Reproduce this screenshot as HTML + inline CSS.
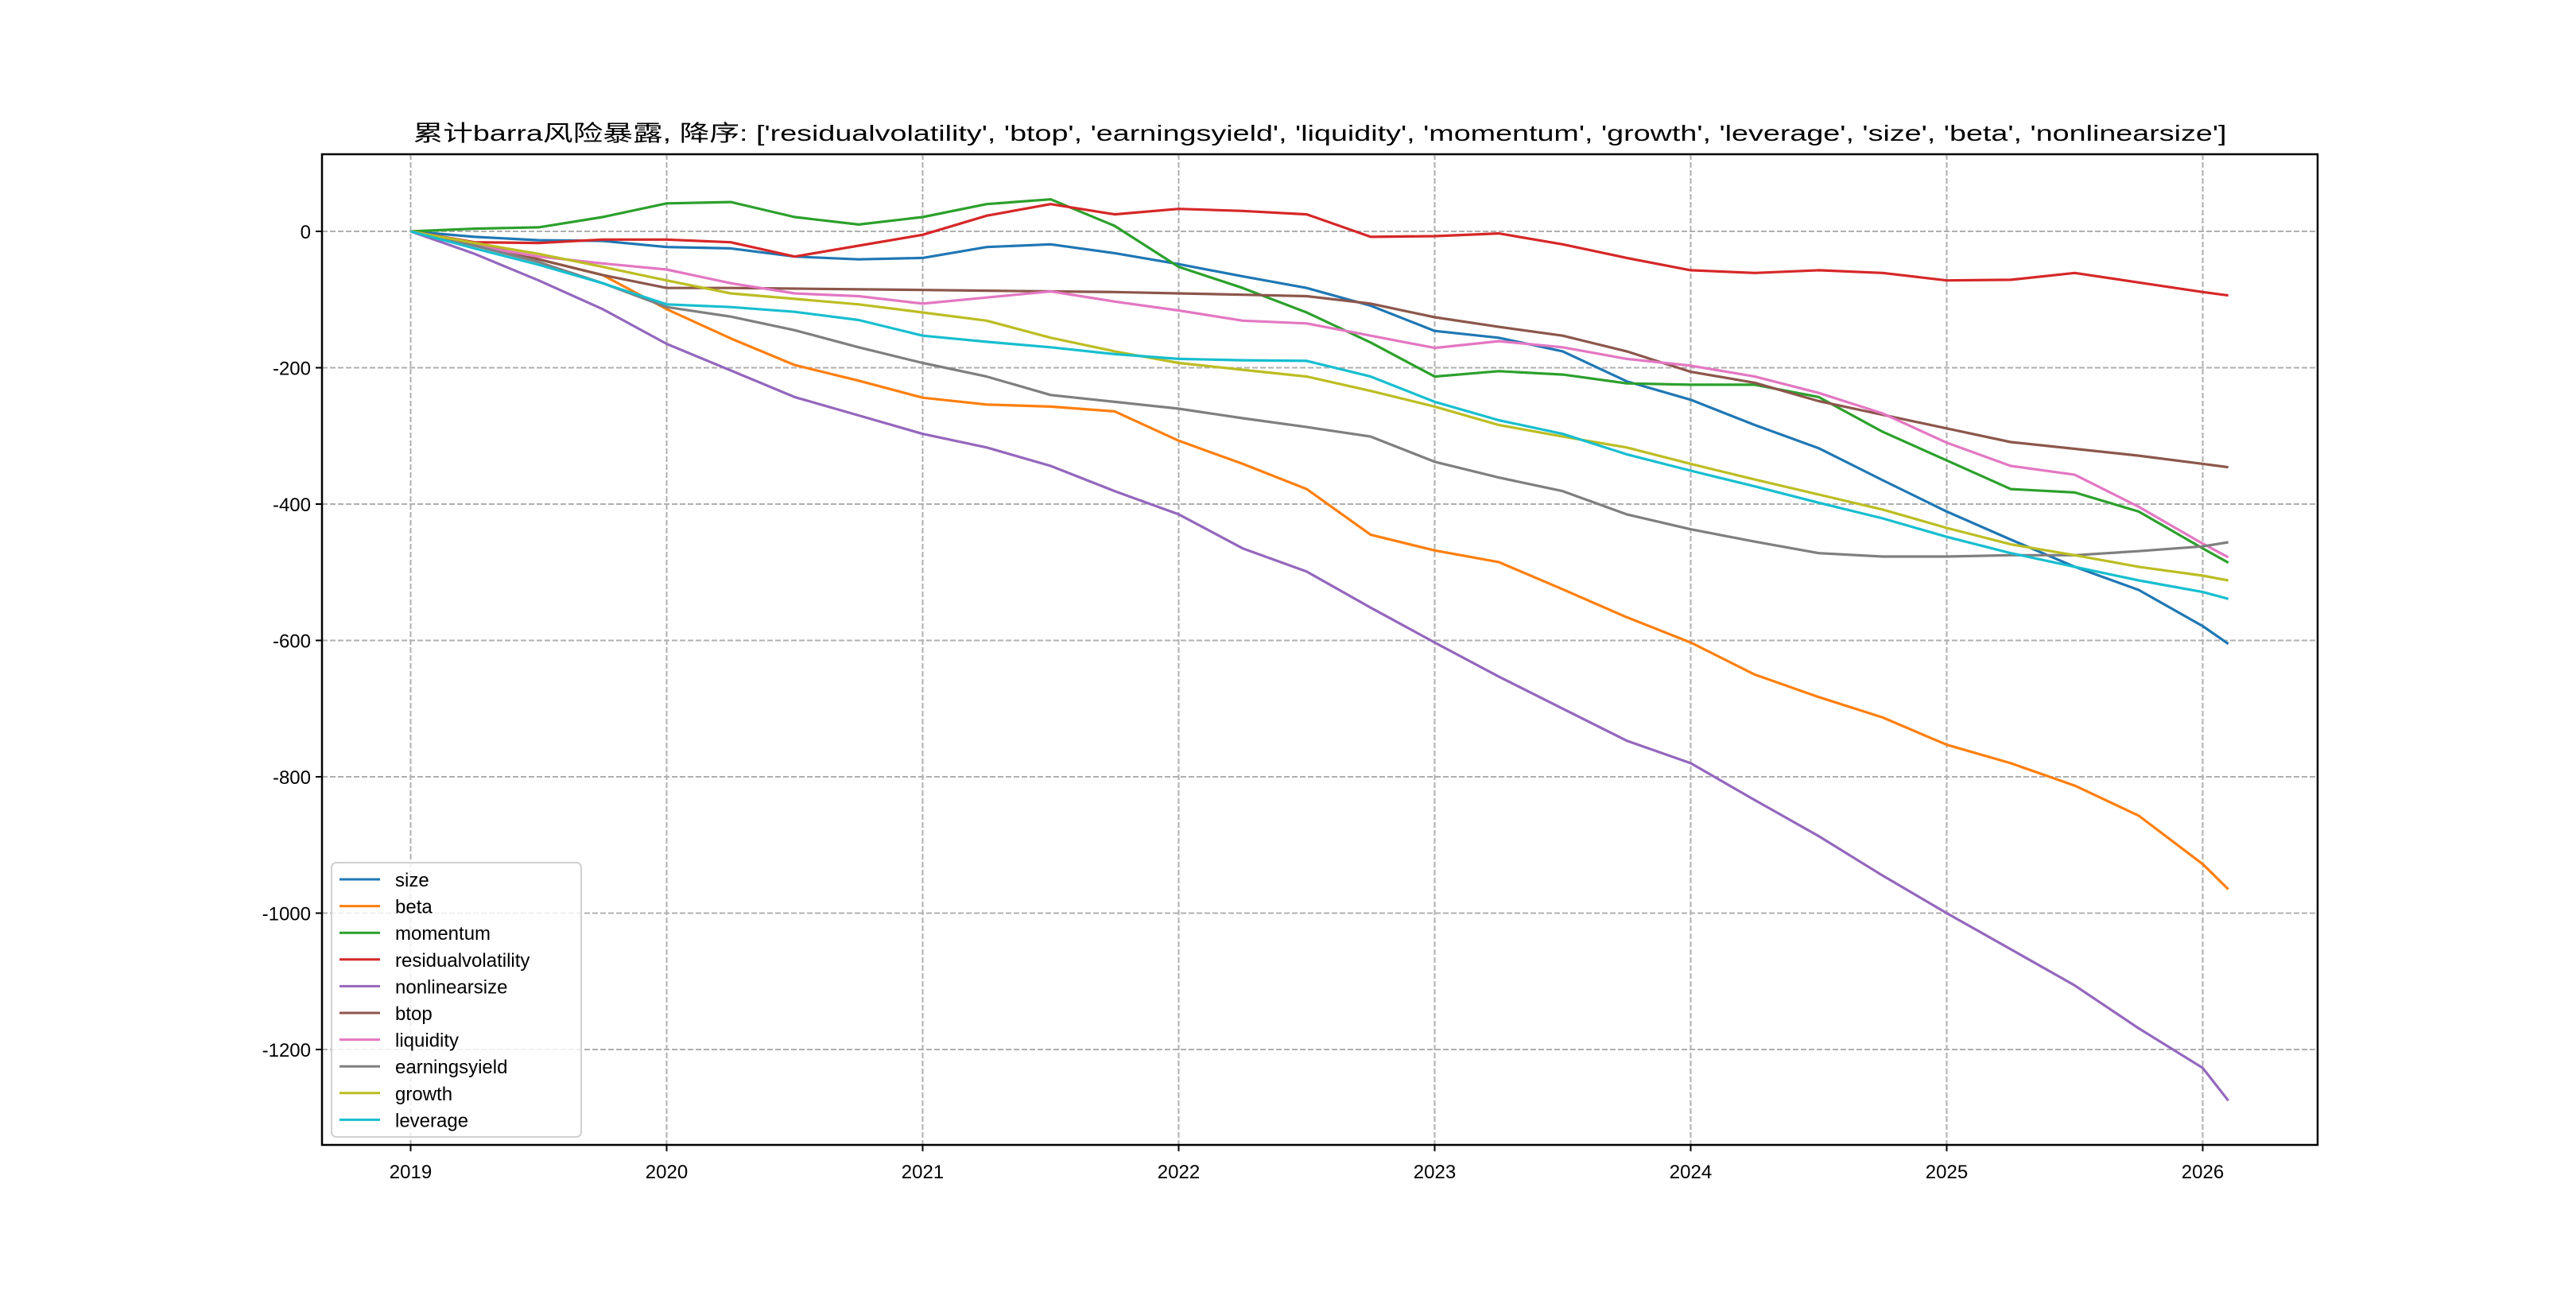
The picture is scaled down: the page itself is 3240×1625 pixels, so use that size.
<!DOCTYPE html>
<html><head><meta charset="utf-8"><style>
html,body{margin:0;padding:0;background:#fff;}
svg text{font-family:"Liberation Sans","Noto Sans CJK SC",sans-serif;}
</style></head><body>
<svg id="chart" width="3240" height="1620" viewBox="0 0 3240 1620" xmlns="http://www.w3.org/2000/svg">
<rect width="3240" height="1620" fill="#fff"/>
<text x="1660" y="177" text-anchor="middle" font-size="28" textLength="2281" lengthAdjust="spacingAndGlyphs">累计barra风险暴露, 降序: ['residualvolatility', 'btop', 'earningsyield', 'liquidity', 'momentum', 'growth', 'leverage', 'size', 'beta', 'nonlinearsize']</text>
<g id="grid"></g>
<g id="series"></g>
<rect x="405" y="194" width="2510" height="1246" fill="none" stroke="#000" stroke-width="2.5"/>
<g id="ticks"></g>
<g id="legend"></g>
</svg>
<script>
const times=[2019,2019.25,2019.5,2019.75,2020,2020.25,2020.5,2020.75,2021,2021.25,2021.5,2021.75,2022,2022.25,2022.5,2022.75,2023,2023.25,2023.5,2023.75,2024,2024.25,2024.5,2024.75,2025,2025.25,2025.5,2025.75,2026,2026.1];
const seriesNames=['size','beta','momentum','residualvolatility','nonlinearsize','btop','liquidity','earningsyield','growth','leverage'];
const seriesColors=['#1f77b4','#ff7f0e','#2ca02c','#d62728','#9467bd','#8c564b','#e377c2','#7f7f7f','#bcbd22','#17becf'];
const sizeVals=[0,-8,-13,-14,-23,-25,-37,-41,-39,-23,-19,-32,-48,-66,-83,-109,-146,-156,-176,-220,-247,-284,-318,-365,-411,-452,-492,-526,-579,-605];
const betaVals=[0,-17,-41,-64,-114,-157,-196,-219,-244,-254,-257,-264,-307,-341,-378,-445,-468,-485,-525,-566,-603,-650,-683,-713,-753,-780,-813,-857,-928,-965];
const momentumVals=[0,4,6,21,41,43,21,10,21,40,47,8,-52,-83,-119,-163,-213,-205,-210,-223,-225,-225,-243,-294,-336,-378,-383,-411,-465,-486];
const residVals=[0,-16,-17,-12,-12,-16,-37,-21,-5,23,40,25,33,30,25,-8,-7,-3,-19,-39,-57,-61,-57,-61,-72,-71,-61,-75,-89,-94];
const nonlinVals=[0,-33,-72,-114,-165,-204,-243,-270,-297,-317,-344,-381,-415,-465,-499,-552,-603,-653,-700,-747,-780,-834,-887,-945,-1000,-1053,-1106,-1169,-1227,-1275];
const btopVals=[0,-17,-41,-64,-83,-83,-84,-85,-86,-87,-88,-89,-91,-93,-95,-106,-126,-140,-153,-176,-206,-222,-249,-269,-289,-309,-319,-329,-341,-346];
const liquidityVals=[0,-21,-37,-47,-56,-76,-91,-95,-106,-97,-88,-103,-116,-131,-135,-153,-171,-161,-170,-187,-197,-213,-237,-267,-310,-344,-357,-404,-458,-478];
const earningsVals=[0,-21,-45,-76,-111,-125,-145,-170,-193,-213,-240,-250,-260,-274,-287,-301,-338,-361,-381,-415,-437,-455,-472,-477,-477,-475,-475,-469,-462,-456];
const growthVals=[0,-17,-33,-52,-72,-91,-99,-107,-119,-131,-156,-176,-193,-203,-213,-234,-257,-284,-301,-317,-341,-364,-386,-408,-435,-459,-475,-492,-505,-512];
const leverageVals=[0,-25,-49,-76,-107,-111,-118,-130,-153,-162,-170,-180,-187,-189,-190,-213,-250,-277,-297,-327,-351,-374,-398,-421,-448,-472,-492,-512,-529,-539];
const xTicks=[2019,2020,2021,2022,2023,2024,2025,2026];
const yTicks=[0,-200,-400,-600,-800,-1000,-1200];

const allVals=[sizeVals,betaVals,momentumVals,residVals,nonlinVals,btopVals,liquidityVals,earningsVals,growthVals,leverageVals];
const NS='http://www.w3.org/2000/svg';
const L=405,R=2915,T=194,B=1440;
function xs(t){return 516.5+(t-2019)*322;}
function ys(v){return 291-v*0.8575;}
function mk(tag,attrs,parent){const e=document.createElementNS(NS,tag);for(const k in attrs)e.setAttribute(k,attrs[k]);parent.appendChild(e);return e;}
const grid=document.getElementById('grid'),ticks=document.getElementById('ticks'),ser=document.getElementById('series'),leg=document.getElementById('legend');
xTicks.forEach(t=>{
  const x=xs(t);
  const g=mk('line',{x1:x,x2:x,y1:T,y2:B,stroke:'#b0b0b0','stroke-width':2,'stroke-dasharray':'7,3'},grid);
  
  
  const tk=mk('line',{x1:x,x2:x,y1:B,y2:B+8,stroke:'#000','stroke-width':2},ticks);
  
  
  const lb=mk('text',{x:x,y:B+42,'text-anchor':'middle','font-size':24},ticks);
  lb.textContent=t;
  
  
});
yTicks.forEach(v=>{
  const y=ys(v);
  const g=mk('line',{x1:L,x2:R,y1:y,y2:y,stroke:'#b0b0b0','stroke-width':2,'stroke-dasharray':'7,3'},grid);
  
  
  const tk=mk('line',{x1:L-8,x2:L,y1:y,y2:y,stroke:'#000','stroke-width':2},ticks);
  
  
  const lb=mk('text',{x:L-14,y:y+9,'text-anchor':'end','font-size':24},ticks);
  lb.textContent=String(v);
  
  
});
allVals.forEach((vals,i)=>{
  const d=vals.map((v,j)=>(j?'L':'M')+xs(times[j]).toFixed(1)+','+ys(v).toFixed(1)).join(' ');
  const p=mk('path',{d:d,fill:'none',stroke:seriesColors[i],'stroke-width':3.2,'stroke-linejoin':'round'},ser);
  
  
});
const box=mk('rect',{x:417,y:1085,width:314,height:345,rx:6,fill:'#fff','fill-opacity':0.8,stroke:'#d0d0d0','stroke-width':2},leg);


seriesNames.forEach((n,i)=>{
  const y=1106+i*33.6;
  const ln=mk('line',{x1:427,x2:478,y1:y,y2:y,stroke:seriesColors[i],'stroke-width':3},leg);
  
  
  const tx=mk('text',{x:497,y:y+9,'font-size':24},leg);
  tx.textContent=n;
  
  
});
</script>
</body></html>
